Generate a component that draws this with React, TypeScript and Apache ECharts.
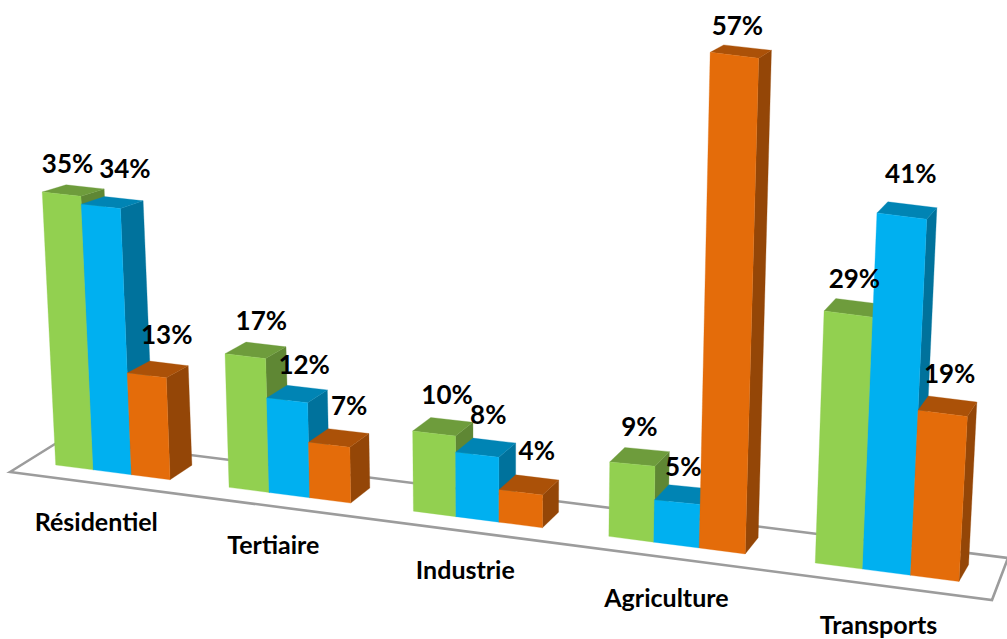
import React, { useEffect, useRef } from "react";
import * as echarts from "echarts";

// ---- data ----
const categories = ["Résidentiel", "Tertiaire", "Industrie", "Agriculture", "Transports"];
const seriesA = [35, 17, 10, 9, 29];
const seriesB = [34, 12, 8, 5, 41];
const seriesC = [13, 7, 4, 57, 19];

// ---- styles and layout ----
const FRONT = ["#92D050", "#00B0F0", "#E46C0A"];
const TOP = ["#6E9C3C", "#0084B4", "#AB5108"];
const SIDE = ["#5F8734", "#00729C", "#944607"];
const FONT = "Lato, 'Open Sans', sans-serif";
const FLOOR_POINTS = [[10, 472], [63, 439], [1008, 558], [992, 600]];
const LABEL_OFFSETS = [
  [[6, -31], [16, -36], [13, -40], [7, -38], [6, -36]],
  [[24, -38], [17, -36], [11, -41], [6, -36], [9, -43]],
  [[20, -41], [20, -40], [16, -42], [3, -30], [7, -40]],
];
const CATEGORY_OFFSETS = [[-16, 49], [-16, 49], [-12, 50], [-10, 52], [-8, 52]];
const UNIT_KNOTS = [[55, 7.8], [270, 7.88], [450, 8.05], [630, 8.3], [700, 8.7], [960, 8.68]];

// Oblique perspective used by the original 3D chart.
const screenX = (t: number) => 55.7 + 37.3 * t + 0.272 * t * t;
const baseY = (x: number) => 465 + 0.129 * (x - 55.7);
const unitHeight = (x: number) => {
  for (let i = 1; i < UNIT_KNOTS.length; i++) {
    const [x0, s0] = UNIT_KNOTS[i - 1];
    const [x1, s1] = UNIT_KNOTS[i];
    if (x <= x1) return s0 + ((s1 - s0) * (x - x0)) / (x1 - x0);
  }
  return UNIT_KNOTS[UNIT_KNOTS.length - 1][1];
};
const lean = (x: number) => (x - 500) / 9000;

function project(t: number, value: number) {
  const x = screenX(t);
  const h = value * unitHeight(x);
  return { x: x + lean(x) * h, y: baseY(x) - h, h };
}
function toBack(p: { x: number; y: number; h: number }) {
  return [
    p.x + 24.5 - 0.0155 * p.x,
    p.y - (14 + 0.003 * p.x) + p.h * (0.026 - 0.000012 * p.x),
  ];
}

// Reads category position and value back through the chart's own axes.
function readAxes(api: any, valueIndex: number) {
  const cat = api.value(0);
  const val = api.value(valueIndex);
  const [px, py] = api.coord([cat, val]);
  const [, zero] = api.coord([cat, 0]);
  const [, one] = api.coord([cat, 1]);
  const band = api.size([1, 0])[0];
  return { group: (px - band / 2) / band, value: (zero - py) / (zero - one) };
}

const barRenderer = (idx: number) => (_: any, api: any) => {
  const { group, value } = readAxes(api, 1);
  const t0 = 4.5 * group + idx;
  const ftl = project(t0, value);
  const ftr = project(t0 + 1, value);
  const fbl = project(t0, 0);
  const fbr = project(t0 + 1, 0);
  const btl = toBack(ftl);
  const btr = toBack(ftr);
  const bbr = toBack(fbr);
  const poly = (pts: number[][], fill: string) => ({
    type: "polygon",
    shape: { points: pts },
    style: { fill, stroke: fill, lineWidth: 0.3 },
  });
  return {
    type: "group",
    children: [
      poly([[fbr.x, fbr.y], [ftr.x, ftr.y], btr, bbr], SIDE[idx]),
      poly([[ftl.x, ftl.y], [ftr.x, ftr.y], btr, btl], TOP[idx]),
      poly([[fbl.x, fbl.y], [fbr.x, fbr.y], [ftr.x, ftr.y], [ftl.x, ftl.y]], FRONT[idx]),
    ],
  };
};

const labelRenderer = (_: any, api: any) => {
  const { group, value } = readAxes(api, 1);
  const idx = api.value(2);
  const cat = Math.round(group);
  const t0 = 4.5 * group + idx;
  const a = project(t0, value);
  const b = project(t0 + 1, value);
  const off = LABEL_OFFSETS[idx][cat];
  return {
    type: "text",
    x: (a.x + b.x) / 2 + off[0],
    y: (a.y + b.y) / 2 + off[1],
    style: {
      text: `${value.toFixed(0)}%`,
      fontFamily: FONT,
      fontWeight: 700,
      fontSize: 26,
      fill: "#000",
      align: "center",
      verticalAlign: "middle",
    },
  };
};

const categoryRenderer = (_: any, api: any) => {
  const cat = api.value(0);
  const [px] = api.coord([cat, 0]);
  const band = api.size([1, 0])[0];
  const group = (px - band / 2) / band;
  const p = project(4.5 * group + 1.5, 0);
  const off = CATEGORY_OFFSETS[cat];
  return {
    type: "text",
    x: p.x + off[0],
    y: p.y + off[1],
    style: {
      text: categories[cat],
      fontFamily: FONT,
      fontWeight: 700,
      fontSize: 25,
      fill: "#000",
      align: "center",
      verticalAlign: "middle",
    },
  };
};

export default function App() {
  const ref = useRef<HTMLDivElement>(null);
  useEffect(() => {
    document.body.style.margin = "0";
    document.body.style.background = "#fff";
    const chart = echarts.init(ref.current!, undefined, { renderer: "svg" });
    const all = [seriesA, seriesB, seriesC];
    chart.setOption({
      animation: false,
      backgroundColor: "#fff",
      tooltip: { show: false },
      grid: { left: 0, right: 0, top: 0, bottom: 0 },
      xAxis: { type: "category", data: categories, show: false },
      yAxis: { type: "value", min: 0, max: 60, show: false },
      graphic: {
        elements: [
          {
            type: "polygon",
            z: 0,
            silent: true,
            shape: { points: FLOOR_POINTS },
            style: { fill: "#fff", stroke: "#9C9C9C", lineWidth: 2.6 },
          },
        ],
      },
      series: [
        ...all.map((values, idx) => ({
          type: "custom",
          name: `Série ${idx + 1}`,
          z: 2 + idx,
          clip: false,
          renderItem: barRenderer(idx),
          encode: { x: 0, y: 1 },
          data: values.map((v, i) => [i, v]),
        })),
        {
          type: "custom",
          name: "Valeurs",
          z: 10,
          clip: false,
          renderItem: labelRenderer,
          encode: { x: 0, y: 1 },
          data: all.flatMap((values, idx) => values.map((v, i) => [i, v, idx])),
        },
        {
          type: "custom",
          name: "Catégories",
          z: 10,
          clip: false,
          renderItem: categoryRenderer,
          encode: { x: 0 },
          data: categories.map((_, i) => [i]),
        },
      ],
    });
    return () => chart.dispose();
  }, []);
  return <div ref={ref} style={{ position: "absolute", left: 0, top: 0, width: 1007, height: 639 }} />;
}
